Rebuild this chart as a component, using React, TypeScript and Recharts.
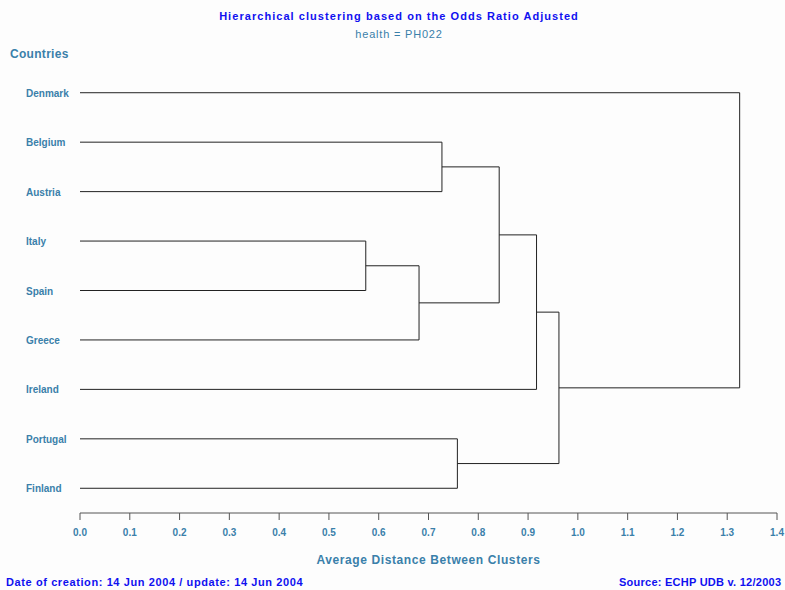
import { LineChart, Line, XAxis, YAxis } from "recharts";

const countries = ["Denmark", "Belgium", "Austria", "Italy", "Spain", "Greece", "Ireland", "Portugal", "Finland"];

// merge k creates node countries.length + k, joining mergeLeft[k] and mergeRight[k]
const mergeLeft = [3, 9, 1, 7, 11, 13, 14, 0];
const mergeRight = [4, 5, 2, 8, 10, 6, 12, 15];
const mergeHeight = [0.574, 0.681, 0.727, 0.758, 0.842, 0.917, 0.962, 1.325];

const xTicks = [0, 0.1, 0.2, 0.3, 0.4, 0.5, 0.6, 0.7, 0.8, 0.9, 1.0, 1.1, 1.2, 1.3, 1.4];

const TEXT = "#3a80aa";
const BLUE = "#1010f0";
const FONT = "'Liberation Sans', Arial, sans-serif";

type Pt = { x: number; y: number };

function buildLinks(): Pt[][] {
  const pos: number[] = countries.map((_, i) => i);
  const height: number[] = countries.map(() => 0);
  const links: Pt[][] = [];
  mergeHeight.forEach((h, k) => {
    const a = mergeLeft[k];
    const b = mergeRight[k];
    links.push([
      { x: height[a], y: pos[a] },
      { x: h, y: pos[a] },
      { x: h, y: pos[b] },
      { x: height[b], y: pos[b] },
    ]);
    pos.push((pos[a] + pos[b]) / 2);
    height.push(h);
  });
  return links;
}

const links = buildLinks();

const CountryTick = (props: any) => {
  const { y, payload } = props;
  return (
    <text x={26} y={y} dy={4} textAnchor="start" fill={TEXT} fontSize={10} fontWeight="bold" fontFamily={FONT}>
      {countries[payload.value]}
    </text>
  );
};

export default function App() {
  return (
    <div style={{ position: "absolute", left: 0, top: 0, width: 785, height: 590, background: "#fdfdfd", overflow: "hidden", fontFamily: FONT }}>
      <div style={{ position: "absolute", left: 0, width: 798, top: 10, textAlign: "center", color: BLUE, fontSize: 11, fontWeight: "bold", letterSpacing: 1.05 }}>
        Hierarchical clustering based on the Odds Ratio Adjusted
      </div>
      <div style={{ position: "absolute", left: 0, width: 798, top: 28, textAlign: "center", color: TEXT, fontSize: 11, letterSpacing: 0.8 }}>
        health = PH022
      </div>
      <div style={{ position: "absolute", left: 10, top: 47, color: TEXT, fontSize: 12, fontWeight: "bold", letterSpacing: 0.3 }}>Countries</div>
      <LineChart width={785} height={590} margin={{ top: 68, right: 8, bottom: 47, left: 0 }}>
        <XAxis
          type="number"
          dataKey="x"
          domain={[0, 1.4]}
          ticks={xTicks}
          tickFormatter={(v: number) => v.toFixed(1)}
          stroke="#555"
          tickSize={7}
          tickMargin={9}
          height={30}
          tick={{ fill: TEXT, fontSize: 10, fontWeight: "bold", fontFamily: FONT }}
          allowDataOverflow
        />
        <YAxis
          type="number"
          dataKey="y"
          domain={[-0.5, 8.5]}
          reversed
          ticks={countries.map((_, i) => i)}
          width={80}
          axisLine={false}
          tickLine={false}
          tick={<CountryTick />}
        />
        {links.map((d, i) => (
          <Line
            key={i}
            data={d}
            dataKey="y"
            type="linear"
            stroke="#222"
            strokeWidth={1}
            dot={false}
            activeDot={false}
            isAnimationActive={false}
          />
        ))}
      </LineChart>
      <div style={{ position: "absolute", left: 80, width: 697, top: 553, textAlign: "center", color: TEXT, fontSize: 12, fontWeight: "bold", letterSpacing: 0.6 }}>
        Average Distance Between Clusters
      </div>
      <div style={{ position: "absolute", left: 6, top: 576, color: BLUE, fontSize: 11, fontWeight: "bold", whiteSpace: "nowrap", letterSpacing: 0.6 }}>
        Date of creation: 14 Jun 2004 / update: 14 Jun 2004
      </div>
      <div style={{ position: "absolute", left: 619, top: 576, color: BLUE, fontSize: 11, fontWeight: "bold", whiteSpace: "nowrap", letterSpacing: 0.25 }}>
        Source: ECHP UDB v. 12/2003
      </div>
    </div>
  );
}
